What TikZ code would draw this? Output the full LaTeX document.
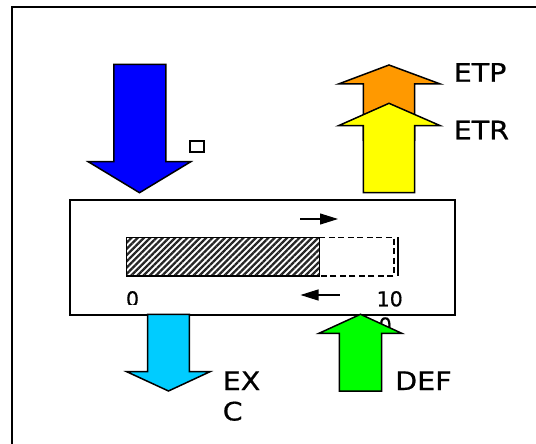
\documentclass[tikz,border=0pt]{standalone}
\usepackage{fontspec}
\usepackage{graphicx}
\setmainfont{DejaVu Sans}[FakeBold=0.6]
\usetikzlibrary{patterns.meta,arrows.meta}
\definecolor{cblue}{RGB}{0,0,255}
\definecolor{corange}{RGB}{255,153,0}
\definecolor{cyellow}{RGB}{255,255,0}
\definecolor{ccyan}{RGB}{0,204,255}
\definecolor{cgreen}{RGB}{0,255,0}
\newcommand{\wtxt}[1]{\scalebox{1.12}[1]{#1}}
\tikzset{
  fatarrow/.style={draw=black,line width=1.5pt,line join=miter},
  biglabel/.style={inner sep=0pt,anchor=base west,font=\fontsize{25.5}{26}\selectfont},
  numlabel/.style={inner sep=0pt,anchor=base west,font=\fontsize{20.5}{21}\selectfont},
  smallarrow/.style={line width=1.1pt,-{Triangle[length=18pt,width=11pt]}}
}
\begin{document}
\begin{tikzpicture}[x=1pt,y=-1pt]
\useasboundingbox (0,0) rectangle (536,444);
\clip (0,0) rectangle (536,444);
\fill[white] (0,0) rectangle (536,444);
% outer frame
\draw[line width=2pt] (11.7,6.7) rectangle (560,470);
% blue arrow
\filldraw[fatarrow,fill=cblue] (113.8,64.3) -- (165.8,64.3) -- (165.8,161.7) -- (190.8,161.7) -- (139.5,192.7) -- (88.2,161.7) -- (113.8,161.7) -- cycle;
% small box glyph
\draw[line width=2pt] (190,141) rectangle (203.5,151.5);
% orange arrow
\filldraw[fatarrow,fill=corange] (363.4,140) -- (363.4,84) -- (338.5,84) -- (389,65) -- (440.3,84) -- (414.7,84) -- (414.7,140) -- cycle;
% yellow arrow
\filldraw[fatarrow,fill=cyellow] (363.4,192.7) -- (363.4,125.7) -- (338.5,125.7) -- (389,103.3) -- (440.3,125.7) -- (414.7,125.7) -- (414.7,192.7) -- cycle;
\node[biglabel] (etp) at (453.5,81.7) {\wtxt{ETP}};
\node[biglabel] (etr) at (453.5,139.3) {\wtxt{ETR}};
% main box
\node[draw=black,line width=1.5pt,fill=white,minimum width=385pt,minimum height=115.3pt,inner sep=0pt,anchor=north west] (box) at (69,199) {};
% hatched bar
\path[fill=white] (126.7,237.3) rectangle (319.3,276);
\path[pattern={Lines[angle=45,distance=4.4pt,line width=2.3pt]},pattern color=black!85] (126.7,237.3) rectangle (319.3,276);
\draw[line width=1.4pt] (126.7,237.3) rectangle (319.3,276);
\draw[line width=1.4pt,dash pattern=on 6pt off 3.5pt] (319.3,237.3) -- (394,237.3) -- (394,276) -- (319.3,276);
\draw[line width=2pt] (397.5,237) -- (397.5,275.5);
% small arrows
\coordinate (ra1) at (300,219);
\coordinate (ra2) at (338,219);
\draw[smallarrow] (ra1) -- (ra2);
\coordinate (la1) at (339.5,295);
\coordinate (la2) at (300.5,295);
\draw[smallarrow] (la1) -- (la2);
% numbers
\begin{scope}
\clip (100,280) rectangle (160,304);
\node[numlabel] (zero) at (125.8,306.3) {0};
\end{scope}
\node[numlabel] (ten) at (376.5,306.3) {10};
\node[numlabel] (zeroB) at (378.5,332.5) {0};
% cyan arrow
\filldraw[fatarrow,fill=ccyan] (147.7,314.3) -- (189.3,314.3) -- (189.3,371.7) -- (210,371.7) -- (168.5,391) -- (126.7,371.7) -- (147.7,371.7) -- cycle;
% green arrow
\filldraw[fatarrow,fill=cgreen] (339.3,391) -- (339.3,333.3) -- (319,333.3) -- (360.5,314.3) -- (401.7,333.3) -- (381.7,333.3) -- (381.7,391) -- cycle;
\node[biglabel] (ex) at (222.5,390) {\wtxt{EX}};
\node[biglabel] (c) at (222.5,420.5) {\wtxt{C}};
\node[biglabel] (def) at (395,390) {\wtxt{DEF}};
\end{tikzpicture}
\end{document}
